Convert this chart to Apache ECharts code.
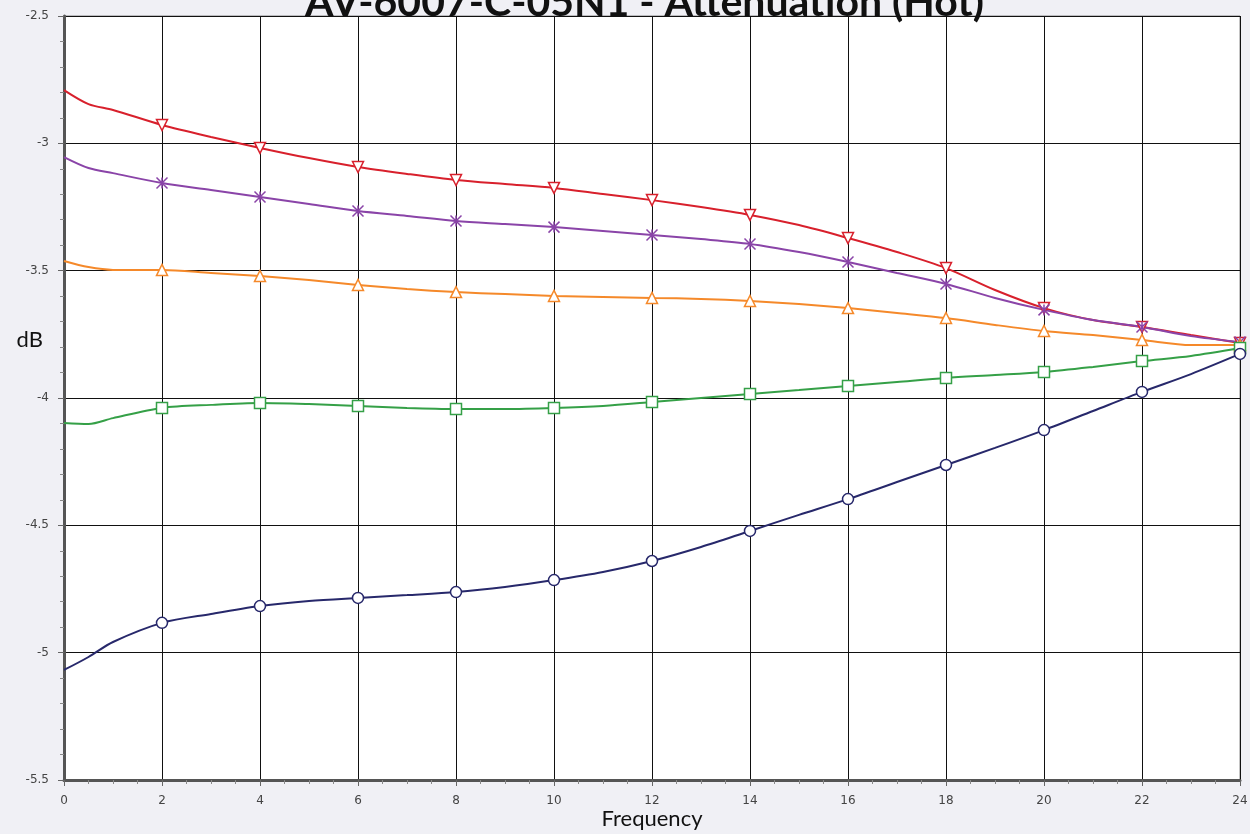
<!DOCTYPE html>
<html>
<head>
<meta charset="utf-8">
<script src="https://cdn.jsdelivr.net/npm/echarts@6/dist/echarts.min.js"></script>
<style>html,body{margin:0;padding:0;background:#f0f0f5;}#c{width:1250px;height:834px;}</style>
</head>
<body>
<div id="c"></div>
<script>
var freq = [0,0.5,1,2,3,4,5,6,7,8,9,10,11,12,13,14,15,16,17,18,19,20,21,22,23,24];
var red = [-2.791,-2.846,-2.869,-2.928,-2.975,-3.018,-3.058,-3.093,-3.120,-3.144,-3.160,-3.175,-3.199,-3.223,-3.250,-3.281,-3.321,-3.372,-3.427,-3.490,-3.576,-3.647,-3.694,-3.721,-3.753,-3.784];
var purple = [-3.054,-3.097,-3.117,-3.156,-3.183,-3.211,-3.238,-3.266,-3.285,-3.305,-3.317,-3.329,-3.344,-3.360,-3.376,-3.395,-3.427,-3.466,-3.509,-3.552,-3.607,-3.654,-3.694,-3.721,-3.757,-3.780];
var orange = [-3.462,-3.486,-3.497,-3.497,-3.509,-3.521,-3.537,-3.556,-3.572,-3.584,-3.592,-3.599,-3.603,-3.607,-3.611,-3.619,-3.631,-3.647,-3.666,-3.686,-3.713,-3.737,-3.753,-3.772,-3.792,-3.792];
var green = [-4.098,-4.102,-4.079,-4.039,-4.027,-4.020,-4.024,-4.031,-4.039,-4.043,-4.043,-4.039,-4.031,-4.016,-4.000,-3.984,-3.969,-3.953,-3.937,-3.921,-3.910,-3.898,-3.878,-3.855,-3.835,-3.804];
var navy = [-5.068,-5.017,-4.958,-4.883,-4.848,-4.817,-4.797,-4.785,-4.774,-4.762,-4.742,-4.715,-4.683,-4.640,-4.585,-4.522,-4.459,-4.397,-4.330,-4.263,-4.196,-4.126,-4.051,-3.976,-3.906,-3.827];
var yTicks = [-5.5,-5,-4.5,-4,-3.5,-3,-2.5];
var xTicks = [0,2,4,6,8,10,12,14,16,18,20,22,24];

function pairs(arr){ return freq.map(function(f,i){ return [f, arr[i]]; }); }
function marked(sym){
  return function(v){ return (v[0] >= 2 && v[0] % 2 === 0) ? sym : 'none'; };
}
var asterisk = 'path://M0,0L10,10M10,0L0,10M5,0L5,10';
function mk(name, arr, color, sym, rot){
  return {
    name: name, type: 'line', data: pairs(arr), smooth: 0.3,
    showAllSymbol: true, symbol: marked(sym), symbolSize: 11, symbolRotate: rot || 0,
    lineStyle: {color: color, width: 2},
    itemStyle: {color: '#ffffff', borderColor: color, borderWidth: 1.5},
    emphasis: {disabled: true}, z: 3
  };
}
var chart = echarts.init(document.getElementById('c'));
chart.setOption({
  backgroundColor: '#f0f0f5',
  animation: false,
  title: {text: 'AV-6007-C-05N1 - Attenuation (Hot)', left: 300, top: -23,
    textStyle: {fontFamily: 'Lato', fontWeight: 'bold', fontSize: 41, color: '#111'}},
  grid: {left: 64, right: 10, top: 16, bottom: 54, show: true, backgroundColor: '#ffffff', borderColor: '#888', borderWidth: 1, outerBoundsMode: 'none', containLabel: false},
  xAxis: {
    type: 'value', min: 0, max: 24, interval: 2,
    name: 'Frequency', nameLocation: 'middle', nameGap: 28, nameMoveOverlap: false,
    nameTextStyle: {fontFamily: 'Lato', fontSize: 22, color: '#111'},
    axisLine: {show: true, onZero: false, lineStyle: {color: '#555', width: 3}},
    axisTick: {show: true, length: 6, lineStyle: {color: '#666'}},
    minorTick: {show: true, splitNumber: 4, length: 4, lineStyle: {color: '#888'}},
    axisLabel: {fontFamily: 'DejaVu Sans', fontSize: 12, color: '#444', margin: 15,
      formatter: function(v){ return xTicks.indexOf(v) >= 0 ? String(v) : ''; }},
    splitLine: {show: true, lineStyle: {color: '#111', width: 1}}
  },
  yAxis: {
    type: 'value', min: -5.5, max: -2.5, interval: 0.5,
    name: 'dB\n ', nameLocation: 'middle', nameGap: 21, nameRotate: 0, nameMoveOverlap: false,
    nameTextStyle: {fontFamily: 'Lato', fontSize: 22, color: '#111', lineHeight: 116, align: 'right'},
    axisLine: {show: true, onZero: false, lineStyle: {color: '#555', width: 3}},
    axisTick: {show: true, length: 6, lineStyle: {color: '#666'}},
    minorTick: {show: true, splitNumber: 5, length: 4, lineStyle: {color: '#888'}},
    axisLabel: {fontFamily: 'DejaVu Sans', fontSize: 12, color: '#444', margin: 15,
      formatter: function(v){ return yTicks.indexOf(v) >= 0 ? String(v) : ''; }},
    splitLine: {show: true, lineStyle: {color: '#111', width: 1}}
  },
  series: [
    mk('Red', red, '#d8202c', 'triangle', 180),
    mk('Purple', purple, '#8a44a8', asterisk, 0),
    mk('Orange', orange, '#f5892a', 'triangle', 0),
    mk('Green', green, '#35a047', 'rect', 0),
    mk('Navy', navy, '#27286b', 'circle', 0)
  ]
});
</script>
</body>
</html>
